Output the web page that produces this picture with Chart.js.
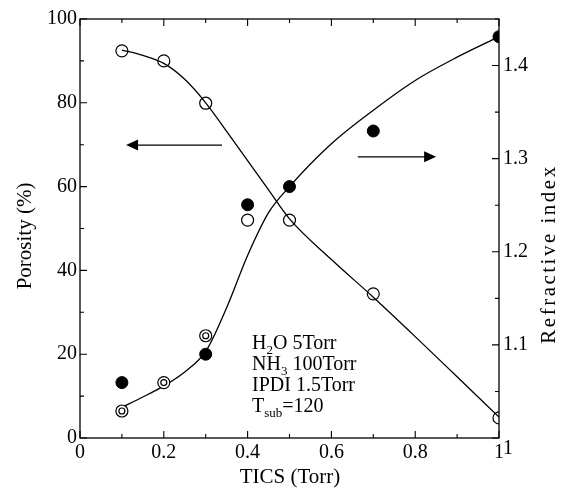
<!DOCTYPE html>
<html>
<head>
<meta charset="utf-8">
<script src="https://cdn.jsdelivr.net/npm/chart.js@4/dist/chart.umd.min.js"></script>
<style>
  html, body { margin: 0; padding: 0; background: #fff; }
  #wrap { width: 561px; height: 489px; }
</style>
</head>
<body>
<div id="wrap"><canvas id="chart" width="561" height="489"></canvas></div>
<script>
// measured points
const ticsPorosity = [0.1, 0.2, 0.3, 0.4, 0.5, 0.7, 1.0];
const porosity = [92.4, 90.0, 79.9, 52.0, 52.0, 34.4, 4.8];

const ticsIndexFilled = [0.1, 0.3, 0.4, 0.5, 0.7, 1.0];
const indexFilled = [1.0595, 1.090, 1.2505, 1.270, 1.3297, 1.431];

const ticsIndexDouble = [0.1, 0.2, 0.3];
const indexDouble = [1.029, 1.0595, 1.1098];

// fitted curves
const ticsCurve = [0.1, 0.15, 0.2, 0.25, 0.3, 0.35, 0.4, 0.45, 0.5, 0.6, 0.7, 0.8, 0.9, 1.0];
const porosityCurve = [92.6, 91.3, 89.4, 85.6, 80.0, 73.2, 66.2, 59.2, 52.3, 42.6, 33.6, 24.2, 14.6, 5.0];
const indexCurve = [1.033, 1.044, 1.056, 1.071, 1.093, 1.140, 1.196, 1.242, 1.270, 1.316, 1.352, 1.384, 1.409, 1.431];

const FONT = '"Liberation Serif", "Times New Roman", serif';

const pairs = (xs, ys) => xs.map((x, i) => ({ x, y: ys[i] }));
const fmt = v => String(+v.toFixed(2));

const deco = {
  id: "deco",
  afterDraw(chart) {
    const { ctx, chartArea: a, scales: { x, y, y2 } } = chart;
    ctx.save();
    ctx.strokeStyle = "#000";
    ctx.fillStyle = "#000";
    ctx.lineWidth = 1.3;
    ctx.strokeRect(a.left, a.top, a.right - a.left, a.bottom - a.top);

    // inward ticks
    ctx.lineWidth = 1.1;
    ctx.beginPath();
    x.ticks.forEach(t => {
      const px = x.getPixelForValue(t.value);
      const len = t.label ? 7 : 4;
      ctx.moveTo(px, a.bottom); ctx.lineTo(px, a.bottom - len);
      ctx.moveTo(px, a.top); ctx.lineTo(px, a.top + len);
    });
    y.ticks.forEach(t => {
      const py = y.getPixelForValue(t.value);
      const len = t.label ? 7 : 4;
      ctx.moveTo(a.left, py); ctx.lineTo(a.left + len, py);
    });
    y2.ticks.forEach(t => {
      const py = y2.getPixelForValue(t.value);
      const len = (t.label || t.value === 1) ? 7 : 4;
      ctx.moveTo(a.right, py); ctx.lineTo(a.right - len, py);
    });
    ctx.stroke();

    // bottom label of the right axis sits a bit lower in the original
    ctx.font = "20px " + FONT;
    ctx.textAlign = "left";
    ctx.textBaseline = "middle";
    ctx.fillText("1", a.right + 4, y2.getPixelForValue(1) + 11);

    // arrows
    const arrow = (x0, x1, yv) => {
      const p0 = x.getPixelForValue(x0), p1 = x.getPixelForValue(x1), py = y.getPixelForValue(yv);
      const dir = Math.sign(p1 - p0);
      ctx.lineWidth = 1.3;
      ctx.beginPath(); ctx.moveTo(p0, py); ctx.lineTo(p1 - dir * 10, py); ctx.stroke();
      ctx.beginPath();
      ctx.moveTo(p1, py); ctx.lineTo(p1 - dir * 12, py - 5.5); ctx.lineTo(p1 - dir * 12, py + 5.5);
      ctx.closePath(); ctx.fill();
    };
    arrow(0.339, 0.11, 69.9);
    arrow(0.663, 0.85, 67.1);

    // annotation
    const rich = (parts, px, base) => {
      parts.forEach(([t, sub]) => {
        ctx.font = (sub ? "13px " : "20px ") + FONT;
        ctx.fillText(t, px, base + (sub ? 5 : 0));
        px += ctx.measureText(t).width;
      });
    };
    ctx.textBaseline = "alphabetic";
    ctx.textAlign = "left";
    const tx = 252;
    rich([["H"], ["2", 1], ["O 5Torr"]], tx, 349);
    rich([["NH"], ["3", 1], [" 100Torr"]], tx, 370);
    rich([["IPDI 1.5Torr"]], tx, 391);
    rich([["T"], ["sub", 1], ["=120"]], tx, 412);

    // axis titles
    ctx.font = "21px " + FONT;
    ctx.textAlign = "center";
    ctx.textBaseline = "middle";
    ctx.fillText("TICS (Torr)", 290, 477);
    ctx.save(); ctx.translate(25, 236); ctx.rotate(-Math.PI / 2);
    ctx.fillText("Porosity (%)", 0, 0); ctx.restore();
    ctx.save(); ctx.translate(549, 254); ctx.rotate(-Math.PI / 2);
    ctx.letterSpacing = "2.5px";
    ctx.fillText("Refractive index", 0, 0); ctx.restore();
    ctx.restore();
  }
};

const tickFont = { family: FONT, size: 20 };

new Chart(document.getElementById("chart"), {
  type: "scatter",
  data: {
    datasets: [
      { data: pairs(ticsCurve, porosityCurve), yAxisID: "y", showLine: true, pointRadius: 0,
        borderColor: "#000", borderWidth: 1.3, cubicInterpolationMode: "monotone", order: 6 },
      { data: pairs(ticsCurve, indexCurve), yAxisID: "y2", showLine: true, pointRadius: 0,
        borderColor: "#000", borderWidth: 1.3, cubicInterpolationMode: "monotone", order: 5 },
      { data: pairs(ticsPorosity, porosity), yAxisID: "y", pointStyle: "circle", pointRadius: 6,
        borderColor: "#000", borderWidth: 1.2, backgroundColor: "rgba(0,0,0,0)", order: 4 },
      { data: pairs(ticsIndexFilled, indexFilled), yAxisID: "y2", pointStyle: "circle", pointRadius: 6,
        borderColor: "#000", borderWidth: 1, backgroundColor: "#000", order: 3 },
      // double circle: outer + inner ring
      { data: pairs(ticsIndexDouble, indexDouble), yAxisID: "y2", pointStyle: "circle", pointRadius: 6,
        borderColor: "#000", borderWidth: 1.2, backgroundColor: "#fff", order: 2 },
      { data: pairs(ticsIndexDouble, indexDouble), yAxisID: "y2", pointStyle: "circle", pointRadius: 3,
        borderColor: "#000", borderWidth: 1.2, backgroundColor: "rgba(0,0,0,0)", order: 1 }
    ]
  },
  options: {
    responsive: false,
    animation: false,
    layout: { padding: { top: 19, left: 0, right: 0, bottom: 0 } },
    plugins: { legend: { display: false }, tooltip: { enabled: false } },
    scales: {
      x: {
        type: "linear", min: 0, max: 1,
        grid: { display: false, drawTicks: false }, border: { display: false },
        ticks: { stepSize: 0.1, autoSkip: false, maxRotation: 0, color: "#000", font: tickFont, padding: 3,
          callback: v => (Math.round(v * 10) % 2 === 0 ? fmt(v) : "") },
        afterFit: s => { s.height = 51; }
      },
      y: {
        position: "left", min: 0, max: 100,
        grid: { display: false, drawTicks: false }, border: { display: false },
        ticks: { stepSize: 10, autoSkip: false, color: "#000", font: tickFont, padding: 3,
          callback: v => (v % 20 === 0 ? fmt(v) : "") },
        afterFit: s => { s.width = 80; }
      },
      y2: {
        position: "right", min: 1, max: 1.45,
        grid: { display: false, drawTicks: false }, border: { display: false },
        ticks: { stepSize: 0.05, autoSkip: false, color: "#000", font: tickFont, padding: 4,
          callback: v => (v > 1.001 && Math.round(v * 100) % 10 === 0 ? fmt(v) : "") },
        afterFit: s => { s.width = 62; }
      }
    }
  },
  plugins: [deco]
});
</script>
</body>
</html>
